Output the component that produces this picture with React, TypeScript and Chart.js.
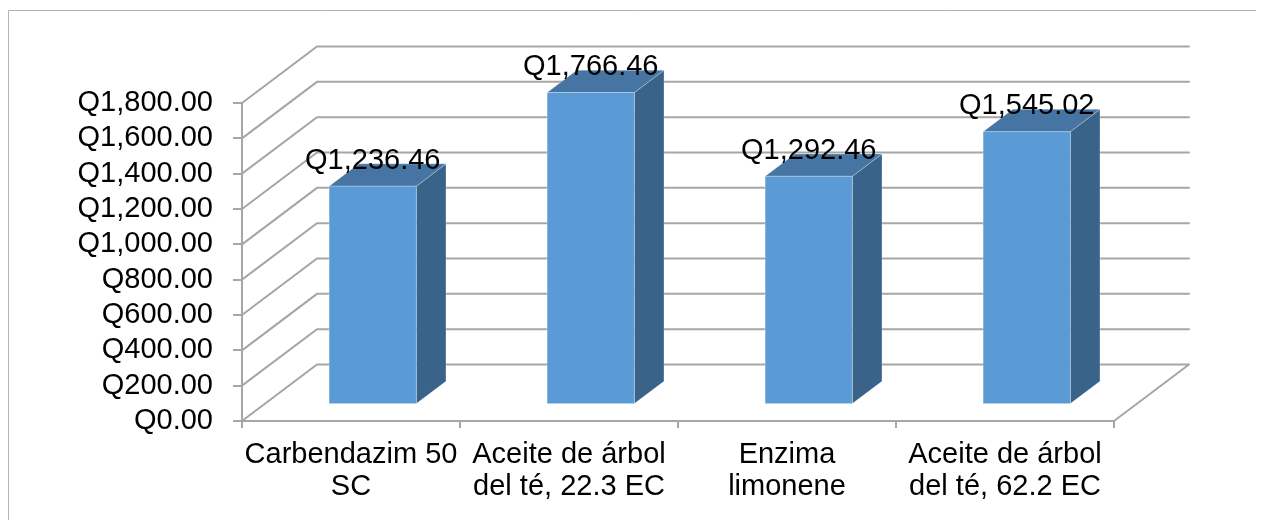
import React, { useEffect, useRef } from "react";
import { Chart, registerables } from "chart.js";

Chart.register(...registerables);

// Cost per treatment (quetzales)
const categories: string[][] = [
  ["Carbendazim 50", "SC"],
  ["Aceite de árbol", "del té, 22.3 EC"],
  ["Enzima", "limonene"],
  ["Aceite de árbol", "del té, 62.2 EC"],
];
const costs: number[] = [1236.46, 1766.46, 1292.46, 1545.02];

const axisMin = 0;
const axisMax = 1800;
const axisStep = 200;

const FONT = "'Liberation Sans', Arial, Helvetica, sans-serif";
const GRID = "#a6a6a6";
const FRAME = "#b3b3b3";
const FACE_FRONT = "#5b9bd5";
const FACE_TOP = "#4775a3";
const FACE_SIDE = "#3a6389";

// Oblique projection of the plot depth (back wall relative to front plane)
const DEPTH = { dx: 75, dy: -56.5 };
// Bar front/back faces as fractions of the full depth
const BAR_FRONT = 0.29;
const BAR_BACK = 0.685;

const fmtQ = (v: number) =>
  "Q" +
  v.toLocaleString("en-US", { minimumFractionDigits: 2, maximumFractionDigits: 2 });

const bars3d = {
  id: "bars3d",
  beforeDraw(chart: any) {
    const { ctx, width, height } = chart;
    ctx.save();
    ctx.strokeStyle = FRAME;
    ctx.lineWidth = 1;
    ctx.beginPath();
    ctx.moveTo(0.5, height);
    ctx.lineTo(0.5, 2.5);
    ctx.lineTo(width, 2.5);
    ctx.stroke();
    ctx.restore();
  },
  beforeDatasetsDraw(chart: any) {
    const { ctx, chartArea } = chart;
    const { left, right, bottom } = chartArea;
    const ys = chart.scales.y;
    ctx.save();
    ctx.strokeStyle = GRID;
    ctx.lineWidth = 2;
    ctx.lineCap = "round";
    ctx.beginPath();
    ys.ticks.forEach((t: any) => {
      const yf = ys.getPixelForValue(t.value);
      // side wall line
      ctx.moveTo(left, yf);
      ctx.lineTo(left + DEPTH.dx, yf + DEPTH.dy);
      // back wall line
      ctx.lineTo(right + DEPTH.dx, yf + DEPTH.dy);
    });
    // floor right edge
    ctx.moveTo(right, bottom);
    ctx.lineTo(right + DEPTH.dx, bottom + DEPTH.dy);
    ctx.stroke();
    ctx.restore();
  },
  afterDatasetsDraw(chart: any) {
    const { ctx } = chart;
    const meta = chart.getDatasetMeta(0);
    const fdx = DEPTH.dx * BAR_FRONT;
    const fdy = DEPTH.dy * BAR_FRONT;
    const bdx = DEPTH.dx * BAR_BACK;
    const bdy = DEPTH.dy * BAR_BACK;
    const ddx = bdx - fdx;
    const ddy = bdy - fdy;
    ctx.save();
    meta.data.forEach((el: any, i: number) => {
      const { x, y, base, width } = el.getProps(["x", "y", "base", "width"], true);
      const x0 = x - width / 2 + fdx;
      const x1 = x + width / 2 + fdx;
      const yTop = y + fdy;
      const yBot = base + fdy;

      ctx.lineWidth = 1;
      ctx.strokeStyle = "rgba(255,255,255,0.25)";

      // side face
      ctx.fillStyle = FACE_SIDE;
      ctx.beginPath();
      ctx.moveTo(x1, yTop);
      ctx.lineTo(x1 + ddx, yTop + ddy);
      ctx.lineTo(x1 + ddx, yBot + ddy);
      ctx.lineTo(x1, yBot);
      ctx.closePath();
      ctx.fill();
      ctx.stroke();

      // top face
      ctx.fillStyle = FACE_TOP;
      ctx.beginPath();
      ctx.moveTo(x0, yTop);
      ctx.lineTo(x1, yTop);
      ctx.lineTo(x1 + ddx, yTop + ddy);
      ctx.lineTo(x0 + ddx, yTop + ddy);
      ctx.closePath();
      ctx.fill();
      ctx.stroke();

      // front face
      ctx.fillStyle = FACE_FRONT;
      ctx.fillRect(x0, yTop, x1 - x0, yBot - yTop);
      ctx.strokeRect(x0, yTop, x1 - x0, yBot - yTop);

      // value label
      ctx.fillStyle = "#000000";
      ctx.font = `29px ${FONT}`;
      ctx.textAlign = "center";
      ctx.textBaseline = "alphabetic";
      ctx.fillText(fmtQ(costs[i]), x + fdx, y + bdy + 5);
    });
    ctx.restore();
  },
};

export default function App() {
  const canvasRef = useRef<HTMLCanvasElement | null>(null);

  useEffect(() => {
    document.body.style.overflow = "hidden";
    const canvas = canvasRef.current;
    if (!canvas) return;
    const chart = new Chart(canvas, {
      type: "bar",
      data: {
        labels: categories,
        datasets: [
          {
            data: costs,
            backgroundColor: "rgba(0,0,0,0)",
            borderWidth: 0,
            categoryPercentage: 0.4,
            barPercentage: 1,
          },
        ],
      },
      options: {
        responsive: false,
        animation: false,
        devicePixelRatio: 1,
        layout: { padding: { top: 95, right: 150, left: 0, bottom: 0 } },
        plugins: {
          legend: { display: false },
          tooltip: { enabled: false },
        },
        scales: {
          x: {
            afterFit: (s: any) => {
              s.height = 99;
            },
            grid: {
              offset: true,
              drawOnChartArea: false,
              drawTicks: true,
              tickLength: 7,
              color: GRID,
              lineWidth: 2,
            },
            border: { display: true, color: GRID, width: 2 },
            ticks: {
              color: "#000000",
              font: { family: FONT, size: 29, lineHeight: "32px" },
              padding: 11,
              autoSkip: false,
              maxRotation: 0,
              minRotation: 0,
            },
          },
          y: {
            min: axisMin,
            max: axisMax,
            afterFit: (s: any) => {
              s.width = 234;
            },
            grid: {
              drawOnChartArea: false,
              drawTicks: true,
              tickLength: 9,
              color: GRID,
              lineWidth: 2,
            },
            border: { display: true, color: GRID, width: 2 },
            ticks: {
              stepSize: axisStep,
              autoSkip: false,
              color: "#000000",
              font: { family: FONT, size: 29 },
              padding: 20,
              callback: (v: any) => fmtQ(Number(v)),
            },
          },
        },
      },
      plugins: [bars3d],
    });
    return () => chart.destroy();
  }, []);

  return (
    <div style={{ width: 1256, height: 512 }}>
      <canvas ref={canvasRef} width={1256} height={512} style={{ display: "block" }} />
    </div>
  );
}
